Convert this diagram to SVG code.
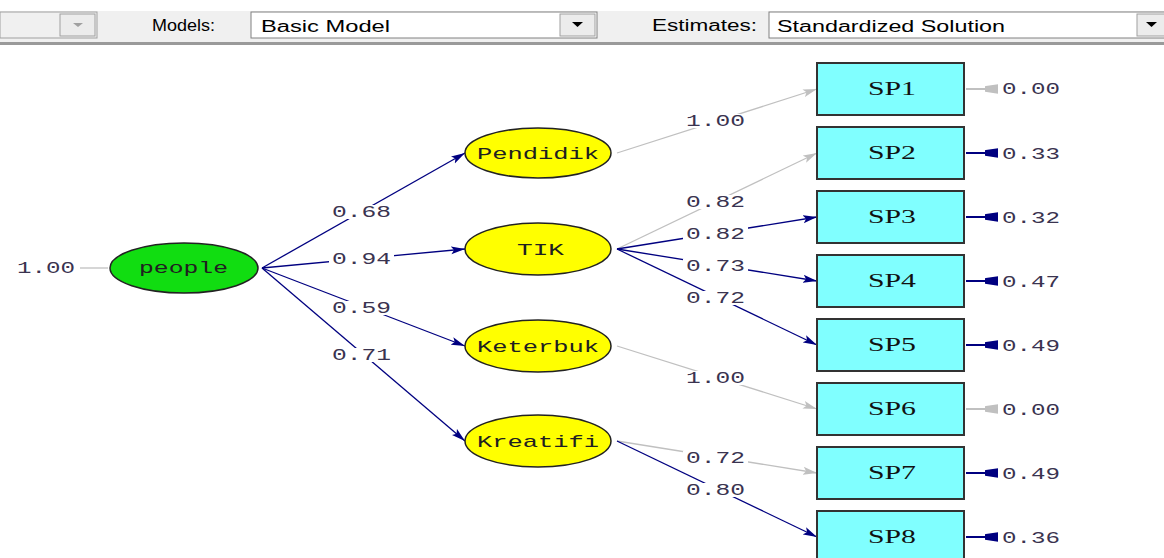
<svg xmlns="http://www.w3.org/2000/svg" width="1164" height="558" viewBox="0 0 1164 558">
<defs>
<marker id="an" markerUnits="userSpaceOnUse" markerWidth="15" markerHeight="9" refX="14" refY="4.5" orient="auto"><path d="M0,0.5 L14,4.5 L0,8.5 L3,4.5 z" fill="#000080"/></marker>
<marker id="ag" markerUnits="userSpaceOnUse" markerWidth="15" markerHeight="9" refX="14" refY="4.5" orient="auto"><path d="M0,0.5 L14,4.5 L0,8.5 L3,4.5 z" fill="#c0c0c0"/></marker>
<style>
.tb{font-family:"Liberation Sans",Arial,sans-serif;font-size:16px;fill:#000}
.ui{fill:#fff;stroke:#808080;stroke-width:1}
.btn{fill:#ececec;stroke:#a0a0a0;stroke-width:1}
.n{stroke:#000080;stroke-width:1.3;fill:none}
.g{stroke:#c0c0c0;stroke-width:1.3;fill:none}
.lat{stroke:#222;stroke-width:1.5}
.obs{fill:#80ffff;stroke:#333;stroke-width:2}
.nt{font-family:"Liberation Mono","Courier New",monospace;font-size:17px;fill:#202020}
.bt{font-family:"Liberation Serif","Times New Roman",serif;font-size:19px;fill:#111}
.v{font-family:"Liberation Mono","Courier New",monospace;font-size:16px;fill:#3a3350}
.bg{fill:#fff}
</style>
</defs>
<rect width="1164" height="558" fill="#fff"/>
<g id="toolbar">
<rect x="0" y="11" width="1164" height="32" fill="#f0f0f0"/>
<rect x="0" y="42" width="1164" height="3" fill="#9a9a9a"/>
<rect x="0" y="12" width="97" height="26" fill="#f0f0f0" stroke="#a0a0a0"/>
<rect x="60" y="14" width="35" height="22" class="btn"/>
<path d="M73,23 h10 l-5,4 z" fill="#a0a0a0"/>
<text x="152" y="31" class="tb" textLength="63" lengthAdjust="spacingAndGlyphs">Models:</text>
<rect x="251" y="12" width="346" height="26" class="ui"/>
<text x="261" y="32" class="tb" textLength="129" lengthAdjust="spacingAndGlyphs">Basic Model</text>
<rect x="560" y="14" width="35" height="22" class="btn"/>
<path d="M572,22 h11 l-5.5,5 z" fill="#000"/>
<text x="652" y="31" class="tb" textLength="105" lengthAdjust="spacingAndGlyphs">Estimates:</text>
<rect x="769" y="12" width="400" height="26" class="ui"/>
<text x="777" y="32" class="tb" textLength="228" lengthAdjust="spacingAndGlyphs">Standardized Solution</text>
<rect x="1137" y="14" width="30" height="22" class="btn"/>
<path d="M1146,22 h11 l-5.5,5 z" fill="#000"/>
</g>
<g id="connectors">
<line x1="80" y1="268" x2="108" y2="268" class="g"/>
<line x1="262" y1="268" x2="465" y2="153" class="n" marker-end="url(#an)"/>
<line x1="262" y1="268" x2="465" y2="249" class="n" marker-end="url(#an)"/>
<line x1="262" y1="268" x2="465" y2="346" class="n" marker-end="url(#an)"/>
<line x1="262" y1="268" x2="465" y2="441" class="n" marker-end="url(#an)"/>
<line x1="617" y1="153" x2="817" y2="89" class="g" marker-end="url(#ag)"/>
<line x1="617" y1="249" x2="817" y2="153" class="g" marker-end="url(#ag)"/>
<line x1="617" y1="249" x2="817" y2="217" class="n" marker-end="url(#an)"/>
<line x1="617" y1="249" x2="817" y2="281" class="n" marker-end="url(#an)"/>
<line x1="617" y1="249" x2="817" y2="345" class="n" marker-end="url(#an)"/>
<line x1="617" y1="346" x2="817" y2="409" class="g" marker-end="url(#ag)"/>
<line x1="617" y1="441" x2="817" y2="473" class="g" marker-end="url(#ag)"/>
<line x1="617" y1="441" x2="817" y2="537" class="n" marker-end="url(#an)"/>
<g id="errors">
<path d="M966,89 H986 M986,87 L997,85.5 V92.5 L986,91 z" stroke="#c0c0c0" stroke-width="2" fill="#c0c0c0"/>
<path d="M966,153 H986 M986,151 L997,149.5 V156.5 L986,155 z" stroke="#000080" stroke-width="2" fill="#000080"/>
<path d="M966,217 H986 M986,215 L997,213.5 V220.5 L986,219 z" stroke="#000080" stroke-width="2" fill="#000080"/>
<path d="M966,281 H986 M986,279 L997,277.5 V284.5 L986,283 z" stroke="#000080" stroke-width="2" fill="#000080"/>
<path d="M966,345 H986 M986,343 L997,341.5 V348.5 L986,347 z" stroke="#000080" stroke-width="2" fill="#000080"/>
<path d="M966,409 H986 M986,407 L997,405.5 V412.5 L986,411 z" stroke="#c0c0c0" stroke-width="2" fill="#c0c0c0"/>
<path d="M966,473 H986 M986,471 L997,469.5 V476.5 L986,475 z" stroke="#000080" stroke-width="2" fill="#000080"/>
<path d="M966,537 H986 M986,535 L997,533.5 V540.5 L986,539 z" stroke="#000080" stroke-width="2" fill="#000080"/>
</g>
</g>
<g id="labels">
<rect x="329" y="205" width="65" height="14" class="bg"/>
<rect x="329" y="252" width="65" height="14" class="bg"/>
<rect x="329" y="301" width="65" height="14" class="bg"/>
<rect x="329" y="348" width="65" height="14" class="bg"/>
<rect x="683" y="114" width="65" height="14" class="bg"/>
<rect x="683" y="195" width="65" height="14" class="bg"/>
<rect x="683" y="227" width="65" height="14" class="bg"/>
<rect x="683" y="259" width="65" height="14" class="bg"/>
<rect x="683" y="291" width="65" height="14" class="bg"/>
<rect x="683" y="371" width="65" height="14" class="bg"/>
<rect x="683" y="451" width="65" height="14" class="bg"/>
<rect x="683" y="483" width="65" height="14" class="bg"/>
<text x="17" y="273" class="v" textLength="58" lengthAdjust="spacingAndGlyphs">1.00</text>
<text x="332" y="217" class="v" textLength="59" lengthAdjust="spacingAndGlyphs">0.68</text>
<text x="332" y="264" class="v" textLength="59" lengthAdjust="spacingAndGlyphs">0.94</text>
<text x="332" y="313" class="v" textLength="59" lengthAdjust="spacingAndGlyphs">0.59</text>
<text x="332" y="360" class="v" textLength="59" lengthAdjust="spacingAndGlyphs">0.71</text>
<text x="686" y="126" class="v" textLength="59" lengthAdjust="spacingAndGlyphs">1.00</text>
<text x="686" y="207" class="v" textLength="59" lengthAdjust="spacingAndGlyphs">0.82</text>
<text x="686" y="239" class="v" textLength="59" lengthAdjust="spacingAndGlyphs">0.82</text>
<text x="686" y="271" class="v" textLength="59" lengthAdjust="spacingAndGlyphs">0.73</text>
<text x="686" y="303" class="v" textLength="59" lengthAdjust="spacingAndGlyphs">0.72</text>
<text x="686" y="383" class="v" textLength="59" lengthAdjust="spacingAndGlyphs">1.00</text>
<text x="686" y="463" class="v" textLength="59" lengthAdjust="spacingAndGlyphs">0.72</text>
<text x="686" y="495" class="v" textLength="59" lengthAdjust="spacingAndGlyphs">0.80</text>
<text x="1002" y="94" class="v" textLength="58" lengthAdjust="spacingAndGlyphs">0.00</text>
<text x="1002" y="159" class="v" textLength="58" lengthAdjust="spacingAndGlyphs">0.33</text>
<text x="1002" y="223" class="v" textLength="58" lengthAdjust="spacingAndGlyphs">0.32</text>
<text x="1002" y="287" class="v" textLength="58" lengthAdjust="spacingAndGlyphs">0.47</text>
<text x="1002" y="351" class="v" textLength="58" lengthAdjust="spacingAndGlyphs">0.49</text>
<text x="1002" y="415" class="v" textLength="58" lengthAdjust="spacingAndGlyphs">0.00</text>
<text x="1002" y="479" class="v" textLength="58" lengthAdjust="spacingAndGlyphs">0.49</text>
<text x="1002" y="543" class="v" textLength="58" lengthAdjust="spacingAndGlyphs">0.36</text>
</g>
<g id="people"><ellipse cx="184" cy="268" rx="74" ry="25" fill="#11dd11" class="lat"/><text x="139" y="273" class="nt" textLength="89" lengthAdjust="spacingAndGlyphs">people</text></g>
<g id="Pendidik"><ellipse cx="538" cy="153" rx="73" ry="25" fill="#ffff00" class="lat"/><text x="477" y="159" class="nt" textLength="122" lengthAdjust="spacingAndGlyphs">Pendidik</text></g>
<g id="TIK"><ellipse cx="538" cy="249" rx="73" ry="26" fill="#ffff00" class="lat"/><text x="517" y="255" class="nt" textLength="47" lengthAdjust="spacingAndGlyphs">TIK</text></g>
<g id="Keterbuk"><ellipse cx="538" cy="346" rx="73" ry="26" fill="#ffff00" class="lat"/><text x="477" y="352" class="nt" textLength="122" lengthAdjust="spacingAndGlyphs">Keterbuk</text></g>
<g id="Kreatifi"><ellipse cx="538" cy="441" rx="73" ry="26" fill="#ffff00" class="lat"/><text x="477" y="447" class="nt" textLength="122" lengthAdjust="spacingAndGlyphs">Kreatifi</text></g>
<g id="SP1"><rect x="817" y="63" width="147" height="52" class="obs"/><text x="868" y="95" class="bt" textLength="48" lengthAdjust="spacingAndGlyphs">SP1</text></g>
<g id="SP2"><rect x="817" y="127" width="147" height="52" class="obs"/><text x="868" y="159" class="bt" textLength="48" lengthAdjust="spacingAndGlyphs">SP2</text></g>
<g id="SP3"><rect x="817" y="191" width="147" height="52" class="obs"/><text x="868" y="223" class="bt" textLength="48" lengthAdjust="spacingAndGlyphs">SP3</text></g>
<g id="SP4"><rect x="817" y="255" width="147" height="52" class="obs"/><text x="868" y="287" class="bt" textLength="48" lengthAdjust="spacingAndGlyphs">SP4</text></g>
<g id="SP5"><rect x="817" y="319" width="147" height="52" class="obs"/><text x="868" y="351" class="bt" textLength="48" lengthAdjust="spacingAndGlyphs">SP5</text></g>
<g id="SP6"><rect x="817" y="383" width="147" height="52" class="obs"/><text x="868" y="415" class="bt" textLength="48" lengthAdjust="spacingAndGlyphs">SP6</text></g>
<g id="SP7"><rect x="817" y="447" width="147" height="52" class="obs"/><text x="868" y="479" class="bt" textLength="48" lengthAdjust="spacingAndGlyphs">SP7</text></g>
<g id="SP8"><rect x="817" y="511" width="147" height="52" class="obs"/><text x="868" y="543" class="bt" textLength="48" lengthAdjust="spacingAndGlyphs">SP8</text></g>
</svg>
